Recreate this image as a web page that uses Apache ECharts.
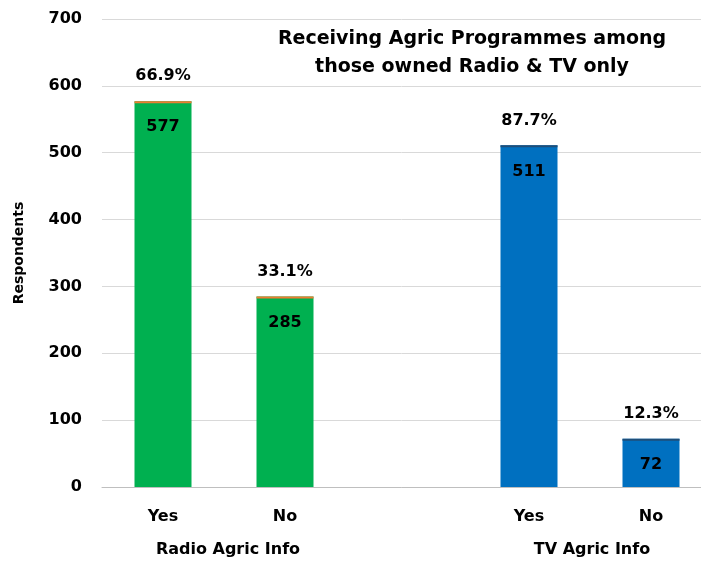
<!DOCTYPE html>
<html><head><meta charset="utf-8">
<script src="https://cdn.jsdelivr.net/npm/echarts@6/dist/echarts.min.js"></script>
<style>html,body{margin:0;padding:0;background:#fff}#c{width:701px;height:561px}</style>
</head><body><div id="c"></div>
<script>
var categories = ['Yes', 'No', '', 'Yes', 'No'];
var counts = [577, 285, null, 511, 72];
var percents = ['66.9%', '33.1%', '', '87.7%', '12.3%'];
var groups = ['Radio Agric Info', 'TV Agric Info'];
var yTicks = [0, 700, 100];
var barColors = ['#00B050', '#00B050', '#00B050', '#0070C0', '#0070C0'];
var capColors = ['#ED7D31', '#ED7D31', '#ED7D31', '#1F4E79', '#1F4E79'];

var FONT = '"DejaVu Sans", sans-serif';
var chart = echarts.init(document.getElementById('c'));
var option = {
  animation: false,
  textStyle: { fontFamily: FONT },
  title: {
    text: 'Receiving Agric Programmes among\nthose owned Radio & TV only',
    left: 467, top: 20, textAlign: 'center',
    textStyle: { fontFamily: FONT, fontSize: 19, fontWeight: 'bold', color: '#000', lineHeight: 28 }
  },
  grid: [
    { left: 102, right: 0, top: 19, bottom: 74 },
    { left: 163, right: 50, top: 19, bottom: 74 }
  ],
  xAxis: [
    {
      gridIndex: 0, type: 'category', data: categories,
      axisLine: { lineStyle: { color: '#BFBFBF', width: 1 } },
      axisTick: { show: false }, axisLabel: { show: false }
    },
    {
      gridIndex: 1, type: 'category', data: categories, boundaryGap: false,
      axisLine: { show: false }, axisTick: { show: false },
      axisLabel: { color: '#000', fontFamily: FONT, fontSize: 16, fontWeight: 'bold', margin: 22 }
    }
  ],
  yAxis: [
    {
      gridIndex: 0, type: 'value', min: yTicks[0], max: yTicks[1], interval: yTicks[2],
      name: 'Respondents', nameLocation: 'middle', nameGap: 76, nameRotate: 90,
      nameTextStyle: { color: '#000', fontFamily: FONT, fontSize: 14, fontWeight: 'bold' },
      axisLine: { show: false }, axisTick: { show: false },
      axisLabel: { color: '#000', fontFamily: FONT, fontSize: 16, fontWeight: 'bold', margin: 20 },
      splitLine: { lineStyle: { color: '#D9D9D9', width: 1 } }
    },
    {
      gridIndex: 1, type: 'value', min: yTicks[0], max: yTicks[1], interval: yTicks[2],
      axisLine: { show: false }, axisTick: { show: false },
      axisLabel: { show: false }, splitLine: { show: false }
    }
  ],
  series: [
    {
      type: 'bar', xAxisIndex: 1, yAxisIndex: 1, barWidth: 57,
      data: counts.map(function (v, i) { return { value: v, itemStyle: { color: barColors[i] } }; }),
      label: {
        show: true, position: 'insideTop', distance: 18,
        color: '#000', fontFamily: FONT, fontSize: 16, fontWeight: 'bold'
      },
      z: 2
    },
    {
      type: 'pictorialBar', xAxisIndex: 1, yAxisIndex: 1,
      symbol: 'rect', symbolSize: [57, 2], symbolPosition: 'end',
      symbolOffset: [0, 0], barGap: '-100%',
      data: counts.map(function (v, i) { return { value: v, itemStyle: { color: capColors[i] } }; }),
      label: {
        show: true, position: 'top', distance: 17,
        formatter: function (p) { return percents[p.dataIndex]; },
        color: '#000', fontFamily: FONT, fontSize: 16, fontWeight: 'bold'
      },
      z: 3
    }
  ]
};
chart.setOption(option);

var p0 = chart.convertToPixel({ xAxisIndex: 1 }, 0);
var p1 = chart.convertToPixel({ xAxisIndex: 1 }, 1);
var p3 = chart.convertToPixel({ xAxisIndex: 1 }, 3);
var p4 = chart.convertToPixel({ xAxisIndex: 1 }, 4);
var ts = { fontFamily: FONT, fontSize: 16, fontWeight: 'bold', fill: '#000', textAlign: 'center', textVerticalAlign: 'middle' };
chart.setOption({
  graphic: [
    { type: 'text', x: (p0 + p1) / 2 + 4, y: 550, style: Object.assign({ text: groups[0] }, ts) },
    { type: 'text', x: (p3 + p4) / 2 + 2, y: 550, style: Object.assign({ text: groups[1] }, ts) }
  ]
});
</script></body></html>
